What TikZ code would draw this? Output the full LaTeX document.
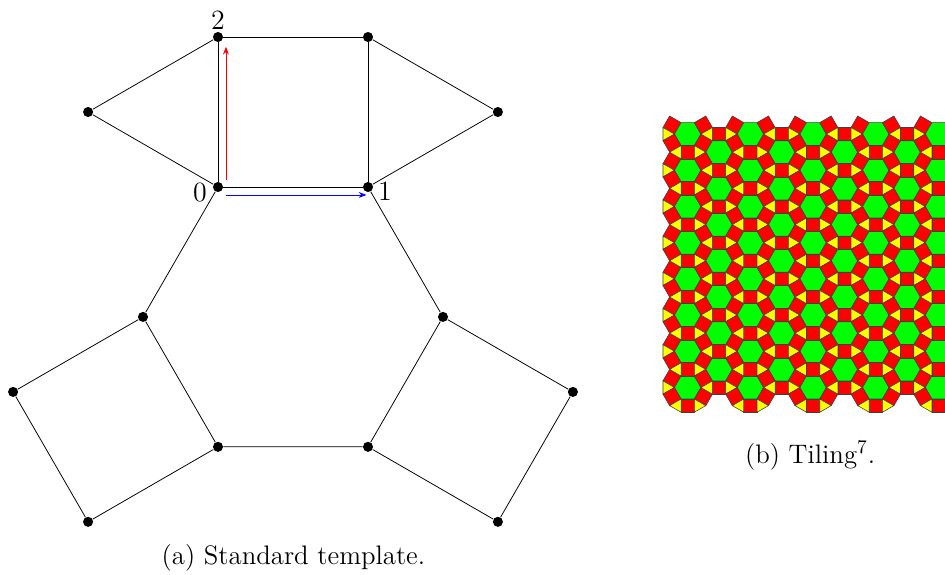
\documentclass[tikz,border=0pt]{standalone}
\usepackage{tikz}
\usetikzlibrary{arrows.meta,calc}
\definecolor{tilegreen}{RGB}{0,255,0}
\definecolor{tilered}{RGB}{255,0,0}
\definecolor{tileyellow}{RGB}{255,255,0}

\tikzset{
  vtx/.style={circle,fill=black,inner sep=0pt,minimum size=5.2pt},
  lbl/.style={font=\Large,inner sep=0pt},
  captext/.style={font=\fontsize{13.8}{16.5}\selectfont},
  tileline/.style={draw=black!75,line width=0.3pt},
  basis/.style={-{Stealth[length=4pt,width=3pt]}},
}

% keep a tile only if its box lies inside the patch
\newcommand{\puttile}[5]{%
  \pgfmathtruncatemacro\keep{(\hx+(#2)>-1.87)*(\hy+(#3)>-21.0)*(\hy+(#4)<1.37)}%
  \ifnum\keep=1 \filldraw[tileline,fill=#1,shift={(\hx,\hy)}] #5; \fi}

\begin{document}
\begin{tikzpicture}[x=2.72cm,y=2.72cm]
    \useasboundingbox (-1.4533,-2.58) rectangle (4.8467,1.2467);

    % Standard template
    \node[vtx] (v0) at (0,0) {};
    \node[vtx] (v1) at (1,0) {};
    \node[vtx] (v2) at (0,1) {};
    \node[vtx] (v3) at (1,1) {};
    \node[vtx] (tl) at (-0.866,0.5) {};
    \node[vtx] (tr) at (1.866,0.5) {};
    \node[vtx] (h2) at (1.5,-0.866) {};
    \node[vtx] (h3) at (1,-1.732) {};
    \node[vtx] (h4) at (0,-1.732) {};
    \node[vtx] (h5) at (-0.5,-0.866) {};
    \node[vtx] (ql1) at (-1.366,-1.366) {};
    \node[vtx] (ql2) at (-0.866,-2.232) {};
    \node[vtx] (qr1) at (2.366,-1.366) {};
    \node[vtx] (qr2) at (1.866,-2.232) {};

    \draw (v0) -- (v1) -- (v3) -- (v2) -- (v0);
    \draw (v2) -- (tl) -- (v0);
    \draw (v3) -- (tr) -- (v1);
    \draw (v1) -- (h2) -- (h3) -- (h4) -- (h5) -- (v0);
    \draw (h5) -- (ql1) -- (ql2) -- (h4);
    \draw (h2) -- (qr1) -- (qr2) -- (h3);

    \node[lbl] (n0) at ($(v0)+(-0.12,-0.038)$) {0};
    \node[lbl] (n1) at ($(v1)+(0.113,-0.031)$) {1};
    \node[lbl] (n2) at ($(v2)+(0,0.11)$) {2};

    \draw[basis,red] ([shift={(0.053,0.047)}]v0.center) -- ([shift={(0.053,-0.065)}]v2.center);
    \draw[basis,blue] ([shift={(0.053,-0.053)}]v0.center) -- ([shift={(-0.01,-0.053)}]v1.center);

    \node[captext] (capa) at (0.503,-2.47) {(a) Standard template.};

    % Tiling
    \begin{scope}[shift={(3.1313,0.3527)},scale=0.08833]
      \foreach \c in {-1,...,9} \foreach \r in {-1,...,8} {
        \pgfmathsetmacro\hx{2.3660*\c}
        \pgfmathsetmacro\hy{-1.3660*mod(\c+2,2)-2.7321*\r}
        \puttile{tilegreen}{-1}{-0.866}{0.866}{(1,0) -- (0.5,0.866) -- (-0.5,0.866) -- (-1,0) -- (-0.5,-0.866) -- (0.5,-0.866) -- cycle}
        \puttile{tilered}{-0.5}{0.866}{1.866}{(-0.5,0.866) -- (0.5,0.866) -- (0.5,1.866) -- (-0.5,1.866) -- cycle}
        \puttile{tilered}{-1.866}{-1.366}{0}{(-1,0) -- (-0.5,-0.866) -- (-1.366,-1.366) -- (-1.866,-0.5) -- cycle}
        \puttile{tilered}{0.5}{-1.366}{0}{(1,0) -- (0.5,-0.866) -- (1.366,-1.366) -- (1.866,-0.5) -- cycle}
        \puttile{tileyellow}{0.5}{0.866}{1.866}{(0.5,0.866) -- (0.5,1.866) -- (1.366,1.366) -- cycle}
        \puttile{tileyellow}{-1.366}{0.866}{1.866}{(-0.5,0.866) -- (-0.5,1.866) -- (-1.366,1.366) -- cycle}
      }
    \end{scope}

    \node[captext] (capb) at (3.947,-1.792) {(b) Tiling$^7$.};
\end{tikzpicture}
\end{document}
